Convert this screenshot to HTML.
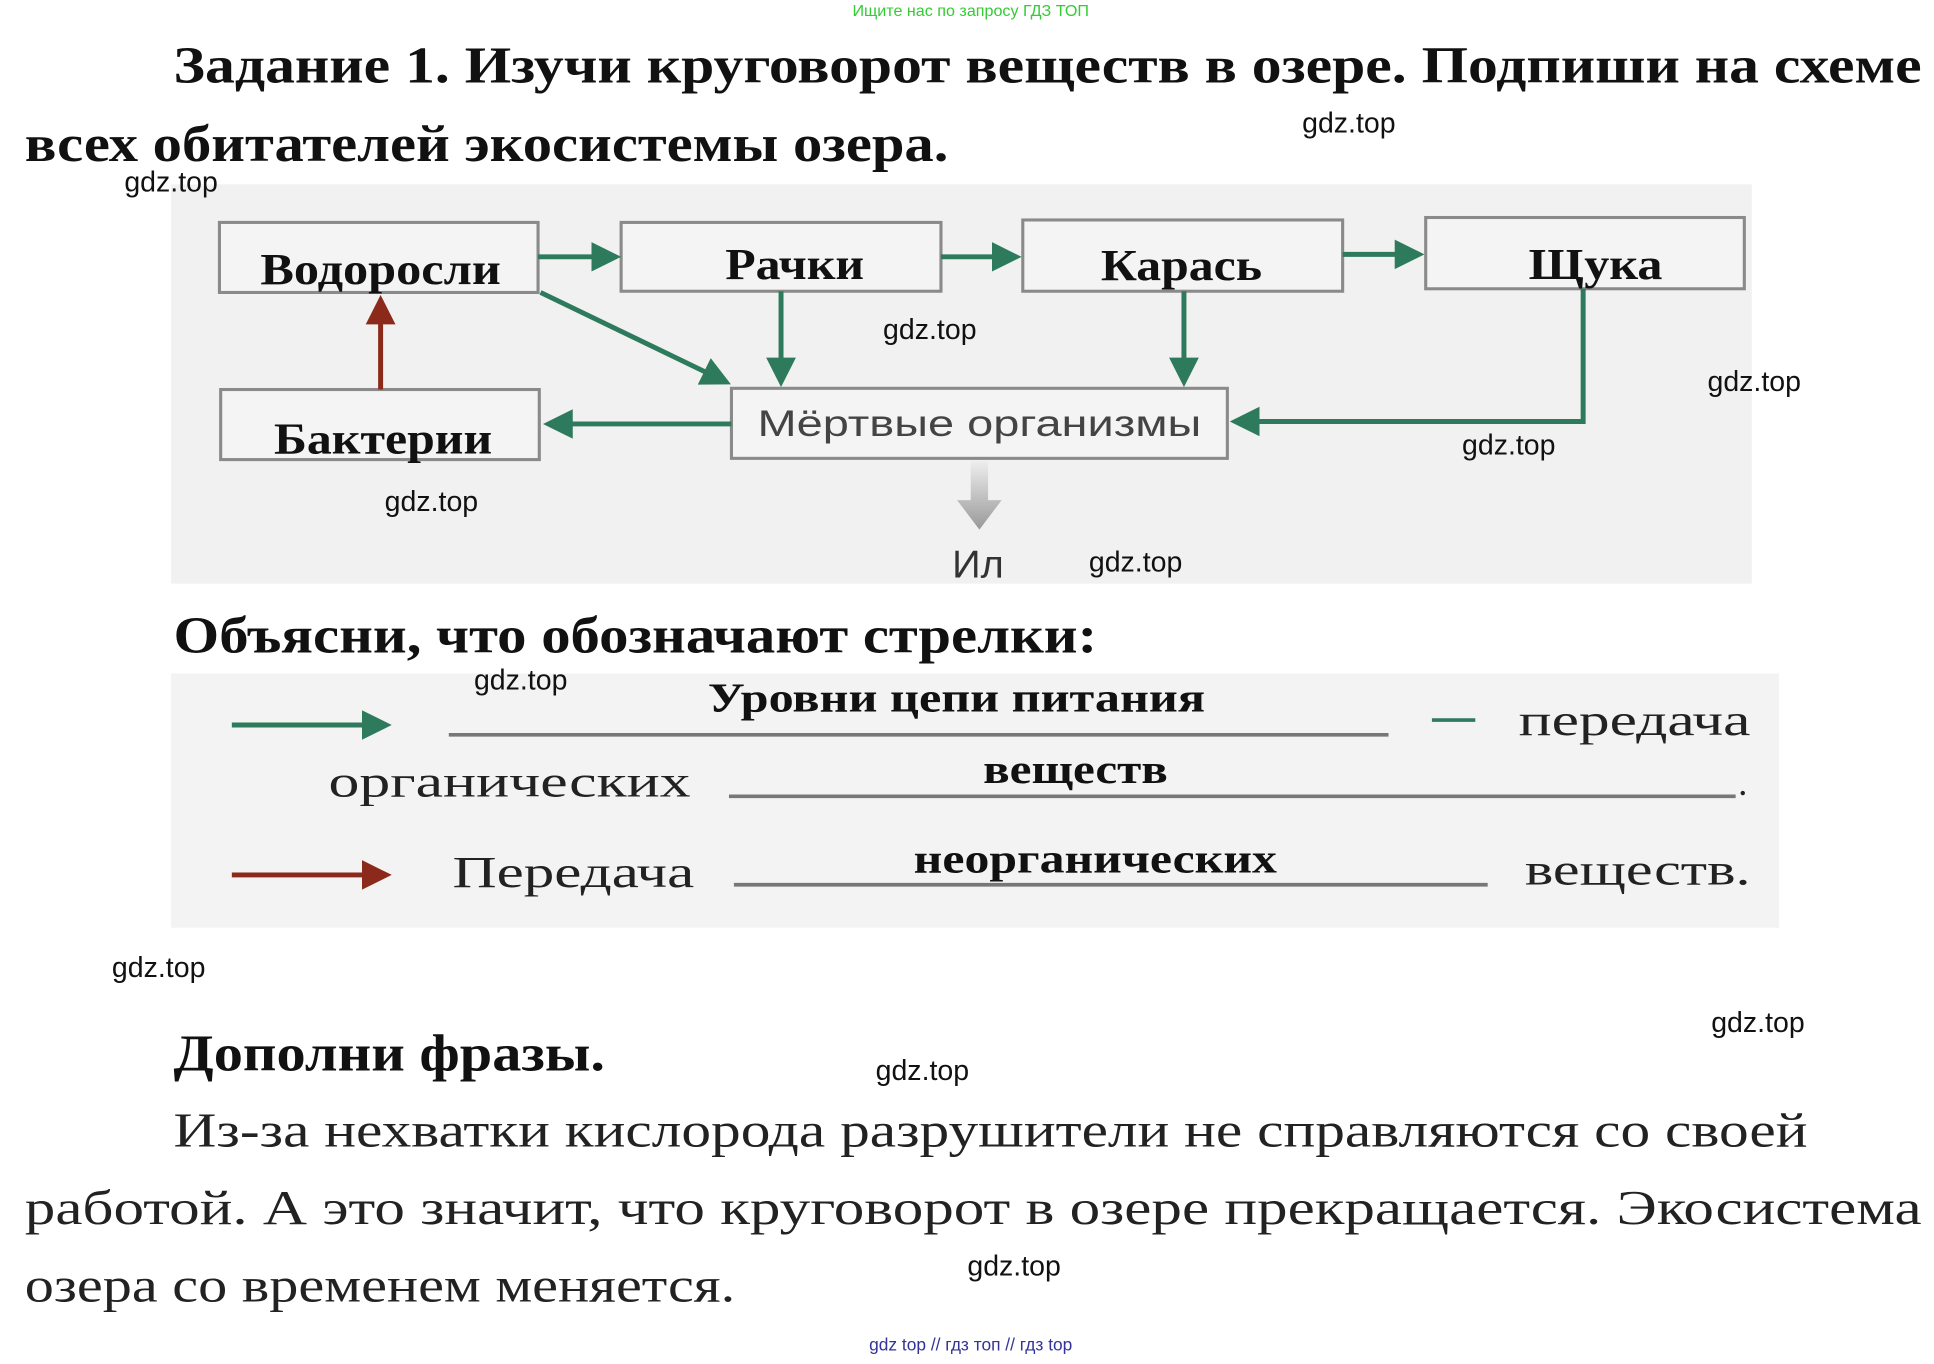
<!DOCTYPE html>
<html><head><meta charset="utf-8"><style>
html,body{margin:0;padding:0;background:#fff;width:1934px;height:1364px;overflow:hidden}
svg{display:block}
.t{font-family:"Liberation Serif","Noto Serif CJK SC",serif;font-weight:bold;fill:#111}
.r{font-family:"Liberation Serif","Noto Serif CJK SC",serif;fill:#222}
.w{font-family:"Liberation Sans","Noto Sans CJK SC",sans-serif;font-size:23px;fill:#111}
.bx{fill:#f4f4f4;stroke:#8a8a8a;stroke-width:2.5}
.g{stroke:#2e7a5c;stroke-width:4;fill:none}
</style></head><body>
<svg width="1934" height="1364" viewBox="0 0 1560 1110" preserveAspectRatio="none">
<defs>
<marker id="ga" markerWidth="6" markerHeight="6" refX="5" refY="3" orient="auto" markerUnits="strokeWidth"><path d="M0,0 L6,3 L0,6 z" fill="#2e7a5c"/></marker>
<marker id="ra" markerWidth="6" markerHeight="6" refX="5" refY="3" orient="auto" markerUnits="strokeWidth"><path d="M0,0 L6,3 L0,6 z" fill="#8b2a1a"/></marker>
<linearGradient id="gr" x1="0" y1="0" x2="0" y2="1"><stop offset="0" stop-color="#eee"/><stop offset="1" stop-color="#999"/></linearGradient>
</defs>
<text x="783" y="13" text-anchor="middle" font-family="Liberation Sans" font-size="13" fill="#33cc33">Ищите нас по запросу ГДЗ ТОП</text>
<text class="t" x="140" y="67" font-size="42" textLength="1410" lengthAdjust="spacingAndGlyphs">Задание 1. Изучи круговорот веществ в озере. Подпиши на схеме</text>
<text class="t" x="20" y="131" font-size="42" textLength="745" lengthAdjust="spacingAndGlyphs">всех обитателей экосистемы озера.</text>

<rect x="138" y="150" width="1275" height="325" fill="#f1f1f1"/>
<rect x="177" y="181" width="257" height="57" class="bx"/>
<rect x="501" y="181" width="258" height="56" class="bx"/>
<rect x="825" y="179" width="258" height="58" class="bx"/>
<rect x="1150" y="177" width="257" height="58" class="bx"/>
<rect x="178" y="317" width="257" height="57" class="bx"/>
<rect x="590" y="316" width="400" height="57" class="bx"/>
<text class="t" x="210" y="231" font-size="36" textLength="194" lengthAdjust="spacingAndGlyphs">Водоросли</text>
<text class="t" x="585" y="227" font-size="36" textLength="112" lengthAdjust="spacingAndGlyphs">Рачки</text>
<text class="t" x="888" y="228" font-size="36" textLength="130" lengthAdjust="spacingAndGlyphs">Карась</text>
<text class="t" x="1233" y="227" font-size="36" textLength="108" lengthAdjust="spacingAndGlyphs">Щука</text>
<text class="t" x="221" y="369" font-size="36" textLength="176" lengthAdjust="spacingAndGlyphs">Бактерии</text>
<text x="611" y="355" font-family="Liberation Sans" font-size="30" fill="#444" textLength="358" lengthAdjust="spacingAndGlyphs">Мёртвые организмы</text>

<line x1="434" y1="209" x2="497" y2="209" class="g" marker-end="url(#ga)"/>
<line x1="759" y1="209" x2="820" y2="209" class="g" marker-end="url(#ga)"/>
<line x1="1083" y1="207" x2="1145" y2="207" class="g" marker-end="url(#ga)"/>
<line x1="436" y1="238" x2="586" y2="311" class="g" marker-end="url(#ga)"/>
<line x1="630" y1="237" x2="630" y2="311" class="g" marker-end="url(#ga)"/>
<line x1="955" y1="237" x2="955" y2="311" class="g" marker-end="url(#ga)"/>
<polyline points="1277,235 1277,343 996,343" class="g" marker-end="url(#ga)"/>
<line x1="590" y1="345" x2="442" y2="345" class="g" marker-end="url(#ga)"/>
<line x1="307" y1="317" x2="307" y2="244" stroke="#8b2a1a" stroke-width="4" marker-end="url(#ra)"/>
<path d="M783,375 h14 v32 h11 l-18,24 l-18,-24 h11 z" fill="url(#gr)"/>
<text x="768" y="470" font-family="Liberation Sans" font-size="32" fill="#333">Ил</text>

<text class="t" x="140" y="531" font-size="42" textLength="745" lengthAdjust="spacingAndGlyphs">Объясни, что обозначают стрелки:</text>
<rect x="138" y="548" width="1297" height="207" fill="#f3f3f3"/>
<line x1="187" y1="590" x2="312" y2="590" class="g" marker-end="url(#ga)"/>
<line x1="187" y1="712" x2="312" y2="712" stroke="#8b2a1a" stroke-width="4" marker-end="url(#ra)"/>
<text class="t" x="571" y="579" font-size="34" textLength="401" lengthAdjust="spacingAndGlyphs">Уровни цепи питания</text>
<line x1="362" y1="598" x2="1120" y2="598" stroke="#777" stroke-width="3"/>
<line x1="1155" y1="586" x2="1190" y2="586" stroke="#2e7a5c" stroke-width="3"/>
<text class="r" x="1225" y="598" font-size="36" textLength="187" lengthAdjust="spacingAndGlyphs">передача</text>
<text class="r" x="265" y="648" font-size="36" textLength="292" lengthAdjust="spacingAndGlyphs">органических</text>
<text class="t" x="793" y="637" font-size="34" textLength="149" lengthAdjust="spacingAndGlyphs">веществ</text>
<line x1="588" y1="648" x2="1400" y2="648" stroke="#777" stroke-width="3"/>
<text class="r" x="1402" y="647" font-size="30">.</text>
<text class="r" x="365" y="722" font-size="36" textLength="195" lengthAdjust="spacingAndGlyphs">Передача</text>
<text class="t" x="737" y="710" font-size="34" textLength="293" lengthAdjust="spacingAndGlyphs">неорганических</text>
<line x1="592" y1="720" x2="1200" y2="720" stroke="#777" stroke-width="3"/>
<text class="r" x="1230" y="720" font-size="36" textLength="182" lengthAdjust="spacingAndGlyphs">веществ.</text>

<text class="t" x="140" y="871" font-size="42" textLength="348" lengthAdjust="spacingAndGlyphs">Дополни фразы.</text>
<text class="r" x="140" y="933" font-size="40" fill="#222" textLength="1318" lengthAdjust="spacingAndGlyphs">Из-за нехватки кислорода разрушители не справляются со  своей</text>
<text class="r" x="20" y="996" font-size="40" textLength="1530" lengthAdjust="spacingAndGlyphs">работой. А это значит, что круговорот в  озере  прекращается.  Экосистема</text>
<text class="r" x="20" y="1059" font-size="40" textLength="573" lengthAdjust="spacingAndGlyphs">озера со временем меняется.</text>
<text x="783" y="1099" text-anchor="middle" font-family="Liberation Sans" font-size="14" fill="#333399">gdz top  //  гдз топ  //  гдз top</text>

<text class="w" x="1088" y="108" text-anchor="middle">gdz.top</text>
<text class="w" x="138" y="156" text-anchor="middle">gdz.top</text>
<text class="w" x="750" y="276" text-anchor="middle">gdz.top</text>
<text class="w" x="1415" y="318" text-anchor="middle">gdz.top</text>
<text class="w" x="1217" y="370" text-anchor="middle">gdz.top</text>
<text class="w" x="348" y="416" text-anchor="middle">gdz.top</text>
<text class="w" x="916" y="465" text-anchor="middle">gdz.top</text>
<text class="w" x="420" y="561" text-anchor="middle">gdz.top</text>
<text class="w" x="128" y="795" text-anchor="middle">gdz.top</text>
<text class="w" x="1418" y="840" text-anchor="middle">gdz.top</text>
<text class="w" x="744" y="879" text-anchor="middle">gdz.top</text>
<text class="w" x="818" y="1038" text-anchor="middle">gdz.top</text>
</svg>
</body></html>
